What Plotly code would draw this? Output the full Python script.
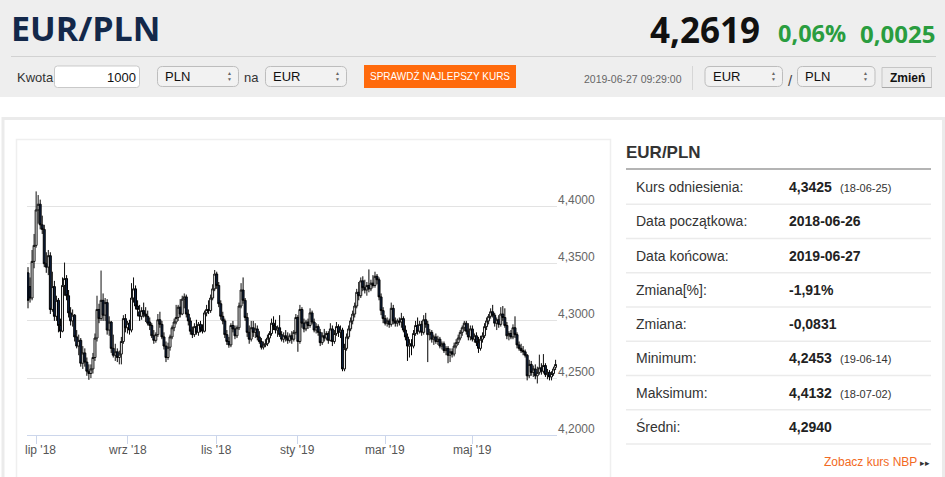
import plotly.graph_objects as go

# ---------------- data ----------------
open_ = [
 4.3420, 4.3300, 4.3200, 4.3520, 4.3660, 4.3970, 4.4020, 4.3840, 4.3800, 4.3500,
 4.3470, 4.3570, 4.3100, 4.3300, 4.3040, 4.3180, 4.2960, 4.2910, 4.3310, 4.3370,
 4.3220, 4.3070, 4.3000, 4.3050, 4.2860, 4.2780, 4.2830, 4.2630, 4.2720, 4.2640,
 4.2560, 4.2540, 4.2580, 4.2680, 4.2850, 4.3100, 4.3020, 4.3180, 4.3050, 4.3160,
 4.2920, 4.2990, 4.2760, 4.2700, 4.2730, 4.2680, 4.2710, 4.2820, 4.3020, 4.2940,
 4.2980, 4.2920, 4.3200, 4.3280, 4.3130, 4.3080, 4.3040, 4.3090, 4.3060, 4.3040,
 4.2990, 4.2960, 4.2870, 4.2830, 4.2880, 4.3010, 4.2970, 4.2860, 4.2780, 4.2680,
 4.2770, 4.2860, 4.2940, 4.2990, 4.3030, 4.3120, 4.3060, 4.3190, 4.3210, 4.3060,
 4.3000, 4.2910, 4.2880, 4.2950, 4.2900, 4.2970, 4.2930, 4.2910, 4.3070, 4.3100,
 4.3090, 4.3200, 4.3280, 4.3410, 4.3310, 4.3150, 4.3040, 4.3000, 4.2880, 4.2820,
 4.2790, 4.2960, 4.2930, 4.2870, 4.2940, 4.3130, 4.3270, 4.3180, 4.3030, 4.2900,
 4.2840, 4.2940, 4.2900, 4.2930, 4.2860, 4.2820, 4.2770, 4.2790, 4.2800, 4.2850,
 4.2890, 4.2980, 4.2950, 4.2920, 4.2940, 4.2880, 4.2840, 4.2870, 4.2850, 4.2830,
 4.2870, 4.2840, 4.2900, 4.3030, 4.2820, 4.3100, 4.2980, 4.2930, 4.2990, 4.2960,
 4.3070, 4.2990, 4.2920, 4.2950, 4.2900, 4.2810, 4.2870, 4.2850, 4.2890, 4.2830,
 4.2930, 4.2820, 4.2890, 4.2950, 4.2900, 4.2920, 4.2580, 4.2760, 4.2860, 4.2930,
 4.3000, 4.3060, 4.3130, 4.3250, 4.3220, 4.3350, 4.3290, 4.3270, 4.3310, 4.3280,
 4.3330, 4.3310, 4.3390, 4.3360, 4.3210, 4.3090, 4.3020, 4.2980, 4.3000, 4.2970,
 4.3110, 4.3000, 4.2980, 4.3000, 4.2990, 4.3020, 4.2920, 4.2860, 4.2780, 4.2800,
 4.2780, 4.2890, 4.2960, 4.2910, 4.2970, 4.2900, 4.3010, 4.2970, 4.2880, 4.2900,
 4.2840, 4.2860, 4.2820, 4.2840, 4.2780, 4.2800, 4.2740, 4.2760, 4.2700, 4.2730,
 4.2710, 4.2780, 4.2810, 4.2850, 4.2900, 4.2940, 4.2980, 4.2910, 4.2860, 4.2930,
 4.2840, 4.2870, 4.2810, 4.2760, 4.2840, 4.2870, 4.2950, 4.3000, 4.3040, 4.3080,
 4.3050, 4.2980, 4.3010, 4.2970, 4.3060, 4.3030, 4.2960, 4.2870, 4.2890, 4.2860,
 4.2940, 4.2880, 4.2790, 4.2760, 4.2740, 4.2730, 4.2700, 4.2520, 4.2620, 4.2550,
 4.2580, 4.2520, 4.2550, 4.2590, 4.2560, 4.2610, 4.2530, 4.2550, 4.2510, 4.2540,
 4.2594,
]
high = [
 4.3470, 4.3380, 4.3620, 4.3760, 4.4132, 4.4100, 4.4060, 4.3920, 4.3840, 4.3600,
 4.3620, 4.3600, 4.3430, 4.3350, 4.3220, 4.3200, 4.3020, 4.3380, 4.3510, 4.3400,
 4.3270, 4.3120, 4.3100, 4.3060, 4.2920, 4.2880, 4.2850, 4.2780, 4.2760, 4.2680,
 4.2620, 4.2620, 4.2720, 4.2890, 4.3220, 4.3150, 4.3440, 4.3240, 4.3200, 4.3190,
 4.3040, 4.3000, 4.2880, 4.2800, 4.2760, 4.2740, 4.2860, 4.3050, 4.3060, 4.3000,
 4.3010, 4.3330, 4.3380, 4.3310, 4.3180, 4.3140, 4.3120, 4.3160, 4.3120, 4.3090,
 4.3030, 4.2980, 4.2920, 4.2900, 4.3060, 4.3080, 4.3000, 4.2900, 4.2820, 4.2810,
 4.2880, 4.2960, 4.3020, 4.3140, 4.3140, 4.3190, 4.3220, 4.3240, 4.3230, 4.3100,
 4.3030, 4.2950, 4.2980, 4.3010, 4.2990, 4.3000, 4.2970, 4.3090, 4.3140, 4.3180,
 4.3230, 4.3320, 4.3445, 4.3430, 4.3340, 4.3180, 4.3080, 4.3020, 4.2920, 4.2860,
 4.2980, 4.3000, 4.2960, 4.2960, 4.3160, 4.3330, 4.3380, 4.3200, 4.3070, 4.2960,
 4.3000, 4.3000, 4.2980, 4.2960, 4.2910, 4.2850, 4.2820, 4.2840, 4.2880, 4.2910,
 4.3020, 4.3040, 4.3010, 4.2960, 4.3050, 4.2910, 4.2900, 4.2920, 4.2900, 4.2890,
 4.2910, 4.2920, 4.3060, 4.3050, 4.3140, 4.3120, 4.3020, 4.3010, 4.3020, 4.3110,
 4.3090, 4.3020, 4.2980, 4.2970, 4.2930, 4.2900, 4.2930, 4.2910, 4.2910, 4.2980,
 4.2960, 4.2920, 4.2990, 4.2970, 4.2960, 4.2940, 4.2800, 4.2890, 4.2960, 4.3030,
 4.3090, 4.3160, 4.3280, 4.3340, 4.3380, 4.3390, 4.3360, 4.3340, 4.3450, 4.3360,
 4.3400, 4.3430, 4.3410, 4.3380, 4.3240, 4.3120, 4.3050, 4.3030, 4.3020, 4.3160,
 4.3140, 4.3030, 4.3020, 4.3030, 4.3070, 4.3040, 4.2960, 4.2890, 4.2840, 4.2840,
 4.2920, 4.3000, 4.3030, 4.3000, 4.3000, 4.3050, 4.3070, 4.3000, 4.2930, 4.2920,
 4.2880, 4.2890, 4.2870, 4.2860, 4.2820, 4.2820, 4.2780, 4.2780, 4.2760, 4.2760,
 4.2810, 4.2840, 4.2880, 4.2920, 4.2960, 4.3000, 4.3000, 4.2980, 4.2960, 4.2960,
 4.2890, 4.2900, 4.2860, 4.2870, 4.2900, 4.2980, 4.3030, 4.3060, 4.3110, 4.3140,
 4.3070, 4.3030, 4.3050, 4.3120, 4.3130, 4.3110, 4.2990, 4.2910, 4.2920, 4.2970,
 4.3040, 4.2900, 4.2820, 4.2800, 4.2780, 4.2750, 4.2710, 4.2660, 4.2650, 4.2610,
 4.2620, 4.2600, 4.2705, 4.2630, 4.2710, 4.2630, 4.2580, 4.2570, 4.2560, 4.2600,
 4.2660,
]
low = [
 4.3110, 4.3160, 4.3180, 4.3460, 4.3640, 4.3850, 4.3800, 4.3760, 4.3470, 4.3420,
 4.3400, 4.3060, 4.3080, 4.3000, 4.3000, 4.2900, 4.2850, 4.2900, 4.3220, 4.3180,
 4.3030, 4.2960, 4.2950, 4.2820, 4.2760, 4.2700, 4.2600, 4.2580, 4.2600, 4.2520,
 4.2485, 4.2500, 4.2540, 4.2650, 4.2820, 4.2980, 4.3000, 4.3000, 4.3000, 4.2880,
 4.2870, 4.2720, 4.2680, 4.2650, 4.2640, 4.2620, 4.2620, 4.2800, 4.2900, 4.2890,
 4.2880, 4.2900, 4.3160, 4.3100, 4.3040, 4.3000, 4.3010, 4.3030, 4.2990, 4.2960,
 4.2920, 4.2850, 4.2800, 4.2810, 4.2860, 4.2940, 4.2840, 4.2750, 4.2640, 4.2660,
 4.2740, 4.2840, 4.2910, 4.2970, 4.3000, 4.3030, 4.3050, 4.3110, 4.3030, 4.2960,
 4.2880, 4.2850, 4.2860, 4.2880, 4.2870, 4.2900, 4.2890, 4.2900, 4.3040, 4.3060,
 4.3070, 4.3180, 4.3260, 4.3280, 4.3120, 4.3010, 4.2970, 4.2850, 4.2790, 4.2765,
 4.2770, 4.2900, 4.2840, 4.2850, 4.2920, 4.3110, 4.3150, 4.3000, 4.2860, 4.2800,
 4.2820, 4.2860, 4.2850, 4.2830, 4.2800, 4.2750, 4.2750, 4.2770, 4.2780, 4.2810,
 4.2870, 4.2920, 4.2890, 4.2860, 4.2860, 4.2820, 4.2810, 4.2820, 4.2800, 4.2810,
 4.2800, 4.2820, 4.2880, 4.2730, 4.2800, 4.2940, 4.2900, 4.2910, 4.2930, 4.2940,
 4.2970, 4.2900, 4.2890, 4.2870, 4.2780, 4.2790, 4.2820, 4.2830, 4.2800, 4.2820,
 4.2780, 4.2800, 4.2870, 4.2860, 4.2850, 4.2560, 4.2560, 4.2740, 4.2840, 4.2910,
 4.2970, 4.3030, 4.3110, 4.3180, 4.3200, 4.3260, 4.3240, 4.3220, 4.3250, 4.3260,
 4.3290, 4.3290, 4.3320, 4.3180, 4.3050, 4.2980, 4.2960, 4.2950, 4.2940, 4.2950,
 4.2970, 4.2950, 4.2950, 4.2960, 4.2940, 4.2900, 4.2830, 4.2650, 4.2680, 4.2700,
 4.2760, 4.2870, 4.2880, 4.2890, 4.2870, 4.2880, 4.2940, 4.2640, 4.2830, 4.2810,
 4.2790, 4.2800, 4.2790, 4.2760, 4.2750, 4.2720, 4.2700, 4.2630, 4.2640, 4.2680,
 4.2690, 4.2760, 4.2790, 4.2830, 4.2870, 4.2910, 4.2880, 4.2830, 4.2830, 4.2820,
 4.2810, 4.2780, 4.2720, 4.2740, 4.2810, 4.2850, 4.2920, 4.2970, 4.3020, 4.3030,
 4.2950, 4.2920, 4.2940, 4.2950, 4.3000, 4.2940, 4.2840, 4.2830, 4.2840, 4.2840,
 4.2850, 4.2760, 4.2740, 4.2720, 4.2700, 4.2680, 4.2480, 4.2500, 4.2520, 4.2510,
 4.2490, 4.2453, 4.2530, 4.2530, 4.2540, 4.2510, 4.2490, 4.2480, 4.2480, 4.2520,
 4.2570,
]
close = [
 4.3180, 4.3200, 4.3520, 4.3660, 4.3970, 4.4020, 4.3840, 4.3800, 4.3500, 4.3470,
 4.3570, 4.3100, 4.3300, 4.3040, 4.3180, 4.2960, 4.2910, 4.3310, 4.3370, 4.3220,
 4.3070, 4.3000, 4.3050, 4.2860, 4.2780, 4.2830, 4.2630, 4.2720, 4.2640, 4.2560,
 4.2540, 4.2580, 4.2680, 4.2850, 4.3100, 4.3020, 4.3180, 4.3050, 4.3160, 4.2920,
 4.2990, 4.2760, 4.2700, 4.2730, 4.2680, 4.2710, 4.2820, 4.3020, 4.2940, 4.2980,
 4.2920, 4.3200, 4.3280, 4.3130, 4.3100, 4.3040, 4.3090, 4.3060, 4.3040, 4.2980,
 4.2960, 4.2870, 4.2830, 4.2880, 4.3010, 4.2970, 4.2860, 4.2780, 4.2680, 4.2770,
 4.2860, 4.2940, 4.2990, 4.3030, 4.3120, 4.3060, 4.3190, 4.3210, 4.3060, 4.3000,
 4.2910, 4.2880, 4.2950, 4.2900, 4.2970, 4.2930, 4.2910, 4.3070, 4.3100, 4.3090,
 4.3200, 4.3280, 4.3410, 4.3310, 4.3150, 4.3040, 4.3000, 4.2880, 4.2820, 4.2790,
 4.2960, 4.2930, 4.2870, 4.2940, 4.3130, 4.3270, 4.3180, 4.3030, 4.2900, 4.2840,
 4.2940, 4.2900, 4.2930, 4.2860, 4.2820, 4.2770, 4.2790, 4.2800, 4.2850, 4.2890,
 4.2980, 4.2950, 4.2920, 4.2940, 4.2880, 4.2840, 4.2870, 4.2850, 4.2830, 4.2870,
 4.2840, 4.2900, 4.3030, 4.2820, 4.3100, 4.2980, 4.2930, 4.2990, 4.2960, 4.3070,
 4.2990, 4.2920, 4.2950, 4.2900, 4.2810, 4.2870, 4.2850, 4.2890, 4.2830, 4.2930,
 4.2820, 4.2890, 4.2950, 4.2900, 4.2920, 4.2580, 4.2760, 4.2860, 4.2930, 4.3000,
 4.3060, 4.3130, 4.3250, 4.3220, 4.3350, 4.3290, 4.3270, 4.3310, 4.3280, 4.3330,
 4.3310, 4.3390, 4.3360, 4.3210, 4.3090, 4.3020, 4.2980, 4.3000, 4.2970, 4.3110,
 4.3000, 4.2980, 4.3000, 4.2990, 4.3020, 4.2920, 4.2860, 4.2780, 4.2800, 4.2780,
 4.2890, 4.2960, 4.2910, 4.2970, 4.2900, 4.3010, 4.2970, 4.2880, 4.2900, 4.2840,
 4.2860, 4.2820, 4.2840, 4.2780, 4.2800, 4.2740, 4.2760, 4.2700, 4.2730, 4.2710,
 4.2780, 4.2810, 4.2850, 4.2900, 4.2940, 4.2980, 4.2910, 4.2860, 4.2930, 4.2840,
 4.2870, 4.2810, 4.2760, 4.2840, 4.2870, 4.2950, 4.3000, 4.3040, 4.3080, 4.3050,
 4.2980, 4.3010, 4.2970, 4.3060, 4.3030, 4.2960, 4.2870, 4.2890, 4.2860, 4.2940,
 4.2880, 4.2790, 4.2760, 4.2740, 4.2730, 4.2700, 4.2520, 4.2620, 4.2550, 4.2580,
 4.2520, 4.2550, 4.2590, 4.2560, 4.2610, 4.2530, 4.2550, 4.2510, 4.2540, 4.2580,
 4.2619,
]

x_tick_index = [4, 49, 93, 133, 176, 219]
x_tick_labels = ["lip '18", "wrz '18", "lis '18", "sty '19", "mar '19", "maj '19"]
y_tick_values = [4.20, 4.25, 4.30, 4.35, 4.40]
y_tick_labels = ["4,2000", "4,2500", "4,3000", "4,3500", "4,4000"]
y_grid_values = [4.25, 4.30, 4.35, 4.40, 4.45]

pair_name = "EUR/PLN"
last_rate = "4,2619"
change_pct = "0,06%"
change_abs = "0,0025"
timestamp = "2019-06-27 09:29:00"

table_labels = ["Kurs odniesienia:", "Data początkowa:", "Data końcowa:", "Zmiana[%]:",
                "Zmiana:", "Minimum:", "Maksimum:", "Średni:"]
table_values = ["4,3425", "2018-06-26", "2019-06-27", "-1,91%", "-0,0831",
                "4,2453", "4,4132", "4,2940"]
table_notes = ["(18-06-25)", "", "", "", "", "(19-06-14)", "(18-07-02)", ""]

# ---------------- page geometry helpers ----------------
W, H = 945, 477
ARIAL = "Arial, Liberation Sans, sans-serif"
OPEN = "Open Sans, Arial, sans-serif"


def px(x):
    return x / W


def py(y):
    return 1 - y / H


def rect(x0, y0, x1, y1, fill=None, line=None, lw=1, layer="below"):
    return dict(type="rect", xref="paper", yref="paper", x0=px(x0), x1=px(x1),
                y0=py(y0), y1=py(y1), fillcolor=fill or "rgba(0,0,0,0)",
                line=dict(color=line or "rgba(0,0,0,0)", width=lw if line else 0),
                layer=layer)


def hline(x0, x1, y, color, lw=1):
    return dict(type="line", xref="paper", yref="paper", x0=px(x0), x1=px(x1),
                y0=py(y), y1=py(y), line=dict(color=color, width=lw), layer="below")


def vline(x, y0, y1, color, lw=1):
    return dict(type="line", xref="paper", yref="paper", x0=px(x), x1=px(x),
                y0=py(y0), y1=py(y1), line=dict(color=color, width=lw), layer="below")


def rrect(x0, y0, x1, y1, r, fill, line, lw=1):
    def P(x, y):
        return f"{px(x):.5f},{py(y):.5f}"
    path = (f"M {P(x0 + r, y0)} L {P(x1 - r, y0)} Q {P(x1, y0)} {P(x1, y0 + r)} "
            f"L {P(x1, y1 - r)} Q {P(x1, y1)} {P(x1 - r, y1)} L {P(x0 + r, y1)} "
            f"Q {P(x0, y1)} {P(x0, y1 - r)} L {P(x0, y0 + r)} Q {P(x0, y0)} {P(x0 + r, y0)} Z")
    return dict(type="path", xref="paper", yref="paper", path=path, fillcolor=fill,
                line=dict(color=line, width=lw), layer="below")


def txt(x, y, s, size, color, anchor="left", family=ARIAL):
    return dict(x=px(x), y=py(y), xref="paper", yref="paper", text=s, showarrow=False,
                xanchor=anchor, yanchor="middle", borderpad=0, borderwidth=0,
                font=dict(size=size, color=color, family=family))


shapes = []
ann = []

# header
shapes.append(rect(0, 0, 945, 97, fill="#eeeeee"))
shapes.append(hline(11, 936, 56.5, "#d2d2d2"))
ann.append(txt(11, 28.5, f"<b>{pair_name}</b>", 34, "#13284a", family=OPEN))
ann.append(txt(650, 29.5, f"<b>{last_rate}</b>", 35, "#111111", family=OPEN))
ann.append(txt(778, 33.5, f"<b>{change_pct}</b>", 23.5, "#2a9d3f", family=OPEN))
ann.append(txt(860, 33.5, f"<b>{change_abs}</b>", 24, "#2a9d3f", family=OPEN))

# controls row
ann.append(txt(17, 77, "Kwota", 13, "#333333"))
shapes.append(rrect(54.5, 66, 139.5, 87.5, 3, "#ffffff", "#c9c9c9"))
ann.append(txt(136, 77, "1000", 13, "#111111", anchor="right"))


def select(x0, x1, label):
    shapes.append(rrect(x0, 66.5, x1, 86.5, 5, "#f2f2f2", "#bdbdbd"))
    ann.append(txt(x0 + 7.5, 76.5, label, 13, "#111111"))
    ann.append(txt(x1 - 9.5, 73.5, "▲", 5, "#666666", anchor="center"))
    ann.append(txt(x1 - 9.5, 79.5, "▼", 5, "#666666", anchor="center"))


select(157.5, 238.5, "PLN")
ann.append(txt(244, 77, "na", 13, "#333333"))
select(265.5, 346.5, "EUR")
shapes.append(rect(364, 65, 516, 88, fill="#ff6a0c"))
ann.append(txt(440, 76.5, "SPRAWDŹ NAJLEPSZY KURS", 10, "#ffffff", anchor="center"))
ann.append(txt(682, 78.5, timestamp, 10.5, "#666666", anchor="right"))
shapes.append(vline(692.5, 66, 90, "#d6d6d6"))
select(705, 782.5, "EUR")
ann.append(txt(790, 80, "/", 15, "#444444", anchor="center"))
select(797.5, 875, "PLN")
shapes.append(rect(882, 67.5, 931.5, 87.5, fill="#ececec", line="#c6c6c6"))
shapes.append(hline(882, 931.5, 87.5, "#a8a8a8"))
ann.append(txt(907, 78, "<b>Zmień</b>", 12, "#111111", anchor="center"))

# frame and chart panel
shapes.append(rect(3, 118.5, 943.5, 520, line="#ebebeb", lw=3))
shapes.append(rect(16.5, 139.5, 610.5, 520, line="#efefef", lw=1.5))

# right info table
ann.append(txt(626, 152, f"<b>{pair_name}</b>", 17, "#333333"))
shapes.append(hline(626, 931, 169, "#b4b4b4", 2))
row_h = 34.25
for k, (lab, val, note) in enumerate(zip(table_labels, table_values, table_notes)):
    yc = 187.2 + k * row_h
    ann.append(txt(636, yc, lab, 14, "#333333"))
    ann.append(txt(789, yc, f"<b>{val}</b>", 14, "#222222"))
    if note:
        ann.append(txt(839.5, yc + 1, note, 11, "#333333"))
    shapes.append(hline(626, 931, 204.3 + k * row_h, "#ebebeb", 1.5))
ann.append(txt(917, 462, "Zobacz kurs NBP", 12, "#f26a23", anchor="right"))
ann.append(txt(920, 462.5, "▸▸", 9, "#333333"))

# chart axis labels
for v, lab in zip(y_tick_values, y_tick_labels):
    ann.append(dict(x=px(557.5), y=v, xref="paper", yref="y", text=lab, showarrow=False,
                    xanchor="left", yanchor="middle", yshift=6.5, borderpad=0, borderwidth=0,
                    font=dict(size=12, color="#666666", family=ARIAL)))
for k, (ti, lab) in enumerate(zip(x_tick_index, x_tick_labels)):
    a = dict(x=ti, y=py(450), xref="x", yref="paper", text=lab, showarrow=False,
             xanchor="center", yanchor="middle", borderpad=0, borderwidth=0,
             font=dict(size=12, color="#555555", family=ARIAL))
    if k == 0:
        a.update(x=px(25), xref="paper", xanchor="left")
    ann.append(a)

fig = go.Figure(go.Candlestick(
    x=list(range(len(close))), open=open_, high=high, low=low, close=close,
    increasing=dict(fillcolor="#ffffff", line=dict(color="#111111", width=1)),
    decreasing=dict(fillcolor="#0e2244", line=dict(color="#000000", width=1)),
    whiskerwidth=0, name=pair_name, showlegend=False,
))

fig.update_layout(
    width=W, height=H, autosize=False,
    margin=dict(l=0, r=0, t=0, b=0),
    paper_bgcolor="#ffffff", plot_bgcolor="rgba(0,0,0,0)",
    showlegend=False, boxgap=0.05, boxgroupgap=0,
    shapes=shapes, annotations=ann,
    xaxis=dict(domain=[px(27), px(557)], range=[-0.5, 260.7], showgrid=False,
               zeroline=False, showline=True, linecolor="#ccd6eb", linewidth=1,
               ticks="outside", ticklen=8, tickcolor="#ccd6eb", tickwidth=1,
               tickvals=x_tick_index, showticklabels=False,
               rangeslider=dict(visible=False), fixedrange=True),
    yaxis=dict(domain=[py(435.3), py(149.3)], range=[4.20, 4.45], showgrid=True,
               gridcolor="#e3e3e3", gridwidth=1, tickvals=y_grid_values,
               showticklabels=False, zeroline=False, showline=False, ticks="",
               fixedrange=True),
)

fig.write_html("out.html",
               config={"displayModeBar": False, "staticPlot": False},
               post_script="document.body.style.margin='0';document.body.style.padding='0';"
                           "document.body.style.overflow='hidden';")
